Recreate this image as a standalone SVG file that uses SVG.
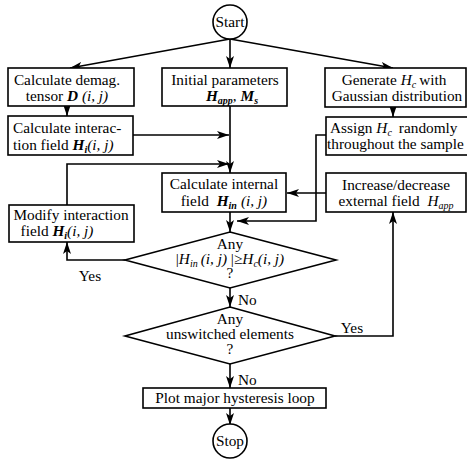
<svg xmlns="http://www.w3.org/2000/svg" width="467" height="464" viewBox="0 0 467 464">
<style>
.n{fill:#fff;stroke:#000;stroke-width:1.6}
.c{fill:none;stroke:#000;stroke-width:1.6}
text{font-family:"Liberation Serif","Times New Roman",serif;font-size:15.3px;fill:#000}
.m{text-anchor:middle}
.b{font-weight:bold;font-style:italic}
.i{font-style:italic}
.s{font-size:10px;baseline-shift:-3px}
</style>
<defs>
<marker id="a" viewBox="0 0 12 8" refX="12" refY="4" markerWidth="12" markerHeight="8" markerUnits="userSpaceOnUse" orient="auto">
<path d="M0,0 L12,4 L0,8 L3,4 z" fill="#000"/>
</marker>
</defs>
<g id="connectors">
<path class="c" d="M230,39 L70,68" marker-end="url(#a)"/>
<path class="c" d="M230,39 L230,68" marker-end="url(#a)"/>
<path class="c" d="M230,39 L393,68" marker-end="url(#a)"/>
<path class="c" d="M67,106 L67,116" marker-end="url(#a)"/>
<path class="c" d="M133,135 L229,135" marker-end="url(#a)"/>
<path class="c" d="M230,106 L230,173" marker-end="url(#a)"/>
<path class="c" d="M67,205 L67,164 L229,164" marker-end="url(#a)"/>
<path class="c" d="M393,107 L393,117" marker-end="url(#a)"/>
<path class="c" d="M326,135 L316,135 L316,221 L237,221" marker-end="url(#a)"/>
<path class="c" d="M326,193 L287,193" marker-end="url(#a)"/>
<path class="c" d="M230,212 L230,232" marker-end="url(#a)"/>
<path class="c" d="M125,260 L67,260 L67,242" marker-end="url(#a)"/>
<path class="c" d="M230,288 L230,307" marker-end="url(#a)"/>
<path class="c" d="M335,336 L393,336 L393,212" marker-end="url(#a)"/>
<path class="c" d="M230,364 L230,388" marker-end="url(#a)"/>
<path class="c" d="M230,408 L230,425" marker-end="url(#a)"/>
<text class="m" x="90" y="281">Yes</text>
<text x="238" y="305">No</text>
<text class="m" x="352" y="333">Yes</text>
<text x="238" y="385">No</text>
</g>
<g id="start">
<circle class="n" cx="230" cy="22" r="17"/>
<text class="m" x="230" y="27">Start</text>
</g>
<g id="demag">
<rect class="n" x="8" y="68" width="126" height="38"/>
<text class="m" x="67" y="85">Calculate demag.</text>
<text class="m" x="67" y="101">tensor <tspan class="b">D</tspan> <tspan class="i">(i, j)</tspan></text>
</g>
<g id="interaction">
<rect class="n" x="8" y="116" width="125" height="39"/>
<text x="13" y="133">Calculate interac-</text>
<text x="13" y="150">tion field <tspan class="b">H</tspan><tspan class="b s">i</tspan><tspan class="i">(i, j)</tspan></text>
</g>
<g id="initial">
<rect class="n" x="162" y="68" width="125" height="38"/>
<text class="m" x="225" y="85">Initial parameters</text>
<text class="m" x="232" y="101"><tspan class="b">H</tspan><tspan class="b s">app</tspan>, <tspan class="b">M</tspan><tspan class="b s">s</tspan></text>
</g>
<g id="generate">
<rect class="n" x="325" y="68" width="141" height="39"/>
<text class="m" x="394" y="85">Generate <tspan class="i">H</tspan><tspan class="i s">c</tspan><tspan dx="3">with</tspan></text>
<text class="m" x="397" y="101">Gaussian distribution</text>
</g>
<g id="assign">
<rect class="n" x="326" y="117" width="145" height="38"/>
<text x="330" y="133">Assign <tspan class="i">H</tspan><tspan class="i s">c</tspan><tspan dx="7">randomly</tspan></text>
<text x="327" y="149">throughout the sample</text>
</g>
<g id="internal">
<rect class="n" x="162" y="173" width="124" height="39"/>
<text class="m" x="224" y="189">Calculate internal</text>
<text class="m" x="224" y="206">field <tspan class="b" dx="4">H</tspan><tspan class="b s">in</tspan><tspan class="i" dx="4">(i, j)</tspan></text>
</g>
<g id="increase">
<rect class="n" x="326" y="173" width="140" height="39"/>
<text class="m" x="396" y="190">Increase/decrease</text>
<text class="m" x="396" y="206">external field <tspan class="i" dx="4">H</tspan><tspan class="i s">app</tspan></text>
</g>
<g id="modify">
<rect class="n" x="9" y="205" width="125" height="37"/>
<text class="m" x="71" y="220">Modify interaction</text>
<text class="m" x="57" y="236">field <tspan class="b">H</tspan><tspan class="b s">i</tspan><tspan class="i">(i, j)</tspan></text>
</g>
<g id="check1">
<polygon class="n" points="230,232 336,260 230,288 125,260"/>
<text class="m" x="230" y="249">Any</text>
<text class="m" x="230" y="264">|<tspan class="i">H</tspan><tspan class="i s">in</tspan><tspan class="i" dx="3">(i, j)</tspan> |≥<tspan class="i">H</tspan><tspan class="i s">c</tspan><tspan class="i">(i, j)</tspan></text>
<text class="m" x="230" y="278">?</text>
</g>
<g id="check2">
<polygon class="n" points="230,307 335,336 230,364 125,336"/>
<text class="m" x="230" y="324">Any</text>
<text class="m" x="230" y="339">unswitched elements</text>
<text class="m" x="230" y="354">?</text>
</g>
<g id="plot">
<rect class="n" x="143" y="388" width="183" height="20"/>
<text class="m" x="235" y="403">Plot major hysteresis loop</text>
</g>
<g id="stop">
<circle class="n" cx="230" cy="441" r="17"/>
<text class="m" x="230" y="446">Stop</text>
</g>
</svg>
